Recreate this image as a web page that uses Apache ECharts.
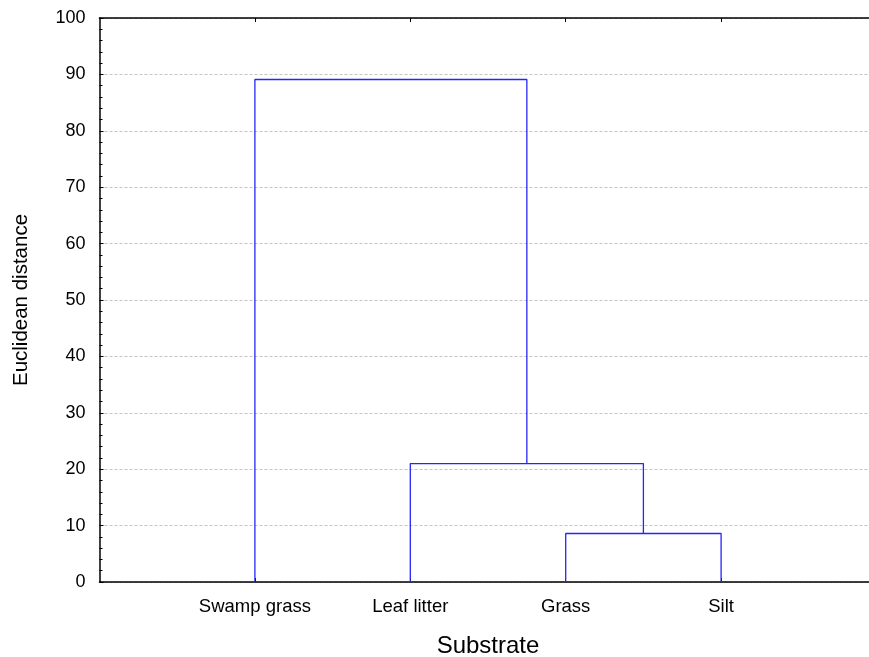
<!DOCTYPE html>
<html>
<head>
<meta charset="utf-8">
<script src="https://cdn.jsdelivr.net/npm/echarts@6/dist/echarts.min.js"></script>
<style>
html,body{margin:0;padding:0;background:#fff;}
#chart{width:869px;height:657px;}
</style>
</head>
<body>
<div id="chart"></div>
<script>
// Leaves (in dendrogram order)
const categories = ['Swamp grass', 'Leaf litter', 'Grass', 'Silt'];
// Linkage: children indices (0..3 leaves, 4+ = clusters formed in order) and merge heights
const linkLeft = [2, 1, 0];
const linkRight = [3, 4, 5];
const linkHeight = [8.6, 21.0, 89.1];
const yTicks = [0, 10, 20, 30, 40, 50, 60, 70, 80, 90, 100];

const nodeX = categories.map((c, i) => i + 1);
const nodeY = categories.map(() => 0);
const series = [];
linkLeft.forEach((l, k) => {
  const r = linkRight[k], h = linkHeight[k];
  series.push({
    type: 'line',
    data: [[nodeX[l], nodeY[l]], [nodeX[l], h], [nodeX[r], h], [nodeX[r], nodeY[r]]],
    symbol: 'none',
    lineStyle: { color: '#2626f5', width: 1.3 },
    silent: true,
    z: 5
  });
  nodeX.push((nodeX[l] + nodeX[r]) / 2);
  nodeY.push(h);
});

const chart = echarts.init(document.getElementById('chart'));
const font = 'Liberation Sans, Arial, sans-serif';
chart.setOption({
  animation: false,
  backgroundColor: '#fff',
  grid: { left: 99.5, top: 18, width: 777, height: 564, outerBoundsMode: 'none', containLabel: false },
  xAxis: [{
    type: 'value', min: 0, max: categories.length + 1, interval: 1, position: 'bottom',
    name: 'Substrate', nameLocation: 'middle', nameGap: 52,
    nameTextStyle: { fontFamily: font, fontSize: 24, color: '#000' },
    axisLine: { show: true, onZero: false, lineStyle: { color: '#000', width: 1.5 } },
    axisTick: { show: true, inside: true, length: 4, customValues: nodeX.slice(0, categories.length), lineStyle: { color: '#000' } },
    axisLabel: { customValues: nodeX.slice(0, categories.length), formatter: v => categories[Math.round(v) - 1] || '', fontFamily: font, fontSize: 18.5, color: '#000', margin: 15 },
    splitLine: { show: false }
  }, {
    type: 'value', min: 0, max: categories.length + 1, interval: 1, position: 'top',
    axisLine: { show: true, onZero: false, lineStyle: { color: '#000', width: 1.5 } },
    axisTick: { show: true, inside: true, length: 4, customValues: [1, 2, 3, 4], lineStyle: { color: '#000' } },
    axisLabel: { show: false },
    splitLine: { show: false }
  }],
  yAxis: {
    type: 'value', min: 0, max: 100, interval: 10,
    name: 'Euclidean distance', nameLocation: 'middle', nameRotate: 90, nameGap: 68,
    nameTextStyle: { fontFamily: font, fontSize: 20.5, color: '#000' },
    axisLine: { show: true, onZero: false, lineStyle: { color: '#000', width: 1.5 } },
    axisTick: { show: true, inside: true, length: 4, lineStyle: { color: '#000' } },
    minorTick: { show: true, splitNumber: 5, length: 3, lineStyle: { color: '#000' } },
    axisLabel: { fontFamily: font, fontSize: 18, color: '#000', margin: 14, customValues: yTicks },
    splitLine: { show: true, lineStyle: { color: '#c4c4c4', type: [3, 2], width: 1 } }
  },
  series: series
});
</script>
</body>
</html>
